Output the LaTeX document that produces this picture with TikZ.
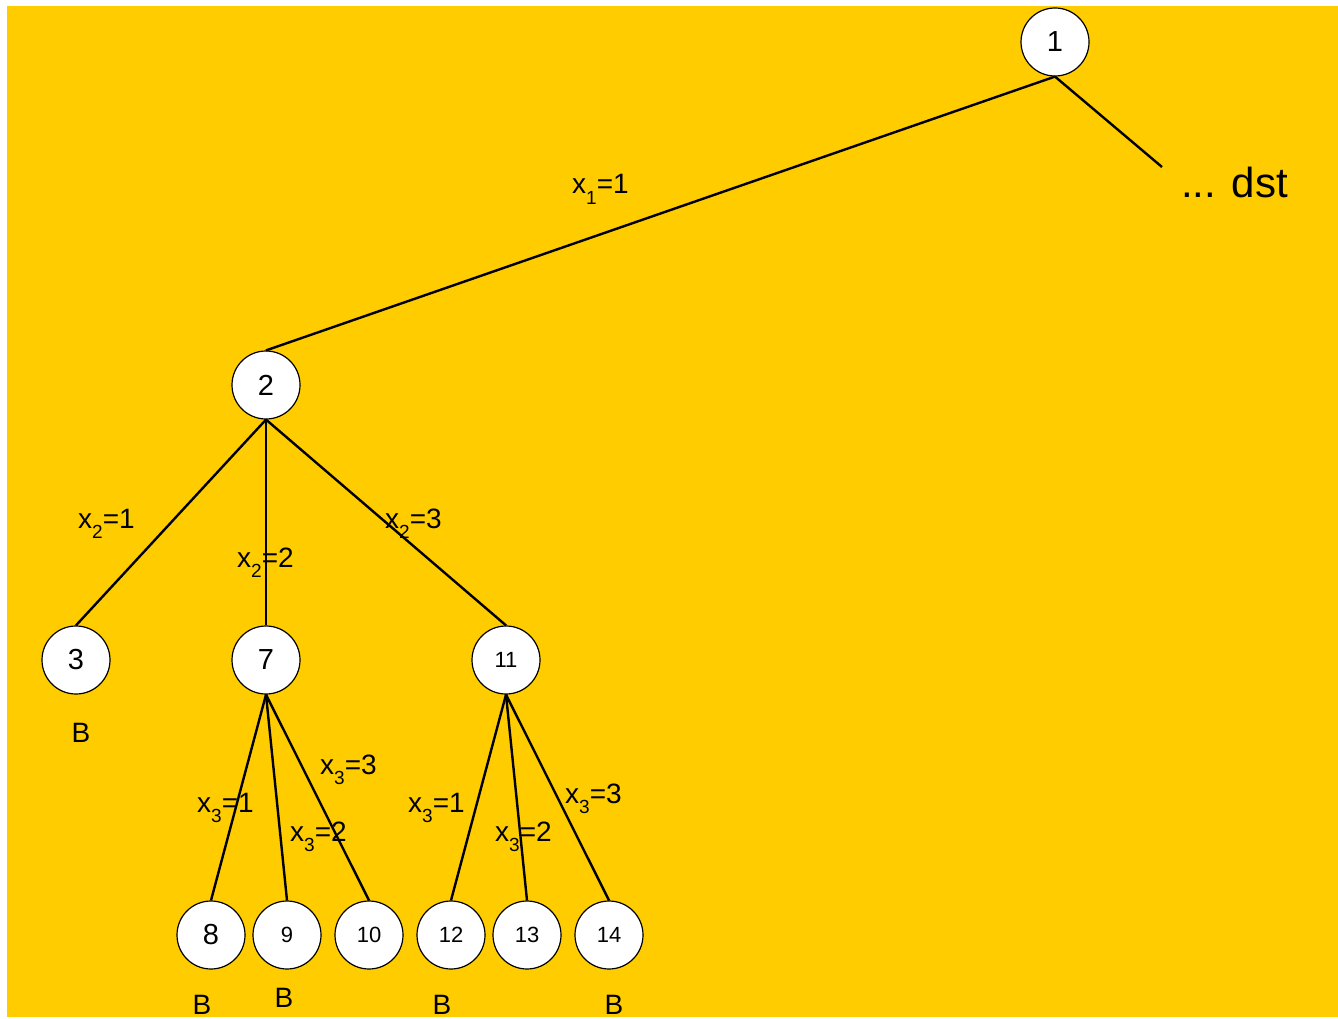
\documentclass[tikz,border=0pt]{standalone}
\usepackage{fontspec}
\setmainfont{Liberation Sans}
\newcommand{\xsub}[1]{x\raisebox{-10pt}{\fontsize{19}{19}\selectfont #1}}
\begin{document}
\begin{tikzpicture}[x=1pt,y=-1pt,
  vtx/.style={circle,draw=black,fill=white,line width=1.2pt,minimum size=68pt,inner sep=0pt,font=\fontsize{29}{31}\selectfont},
  vtxs/.style={vtx,font=\fontsize{22}{24}\selectfont},
  edge/.style={line width=2.4pt,black},
  lab/.style={inner sep=0pt,font=\fontsize{28}{30}\selectfont,anchor=base west},
  btext/.style={inner sep=0pt,font=\fontsize{28}{30}\selectfont,anchor=base}]
\definecolor{bg}{HTML}{FFCC00}
\useasboundingbox (0,0) rectangle (1338,1019);
\fill[bg] (7,6) rectangle (1338,1017);

% tree nodes
\node[vtx]  (n1)  at (1055,42)  {1};
\node[vtx]  (n2)  at (266,385)  {2};
\node[vtx]  (n3)  at (76,660)   {3};
\node[vtx]  (n7)  at (266,660)  {7};
\node[vtxs] (n11) at (506,660)  {11};
\node[vtx]  (n8)  at (211,935)  {8};
\node[vtxs] (n9)  at (287,935)  {9};
\node[vtxs] (n10) at (369,935)  {10};
\node[vtxs] (n12) at (451,935)  {12};
\node[vtxs] (n13) at (527,935)  {13};
\node[vtxs] (n14) at (609,935)  {14};
\coordinate (dstend) at (1162,167);

% branches
\draw[edge] (n1.south) -- (n2.north);
\draw[edge] (n1.south) -- (dstend);
\draw[edge] (n2.south) -- (n3.north);
\draw[edge] (n2.south) -- (n7.north);
\draw[edge] (n2.south) -- (n11.north);
\draw[edge] (n7.south) -- (n8.north);
\draw[edge] (n7.south) -- (n9.north);
\draw[edge] (n7.south) -- (n10.north);
\draw[edge] (n11.south) -- (n12.north);
\draw[edge] (n11.south) -- (n13.north);
\draw[edge] (n11.south) -- (n14.north);

% branch labels
\node[lab] (l1)  at (572,194) {\xsub{1}=1};
\node[lab] (l21) at (78,528)  {\xsub{2}=1};
\node[lab] (l22) at (237,567) {\xsub{2}=2};
\node[lab] (l23) at (385,528) {\xsub{2}=3};
\node[lab] (l31) at (197,812) {\xsub{3}=1};
\node[lab] (l32) at (290,841) {\xsub{3}=2};
\node[lab] (l33) at (320,774) {\xsub{3}=3};
\node[lab] (r31) at (408,812) {\xsub{3}=1};
\node[lab] (r32) at (495,841) {\xsub{3}=2};
\node[lab] (r33) at (565,803) {\xsub{3}=3};

\node[inner sep=0pt,font=\fontsize{42}{44}\selectfont,anchor=base west] (dst) at (1181,198) {... dst};

% bound markers
\node[btext] (b3)  at (81,742)   {B};
\node[btext] (b8)  at (202,1014) {B};
\node[btext] (b9)  at (284,1007) {B};
\node[btext] (b12) at (442,1014) {B};
\node[btext] (b14) at (614,1014) {B};
\end{tikzpicture}
\end{document}
